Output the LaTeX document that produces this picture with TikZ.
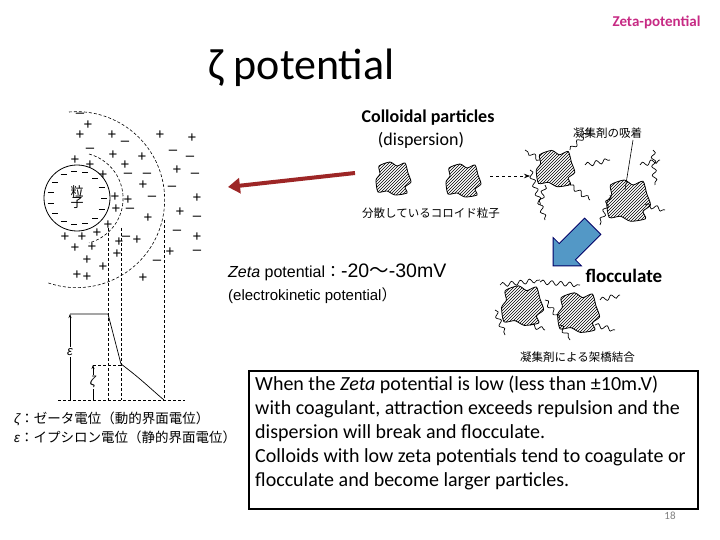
\documentclass[tikz,border=0pt]{standalone}
\usepackage{fontspec}
\setmainfont{Carlito}
\newfontfamily\arialf{Liberation Sans}
\newfontfamily\jpf{Noto Sans CJK JP}
\usetikzlibrary{patterns,shapes.arrows,decorations.pathmorphing,arrows.meta}
\tikzset{
 pm/.style={font=\arialf\fontsize{15}{15}\selectfont,inner sep=0pt},
 jp/.style={font=\jpf\fontsize{11.5}{12}\selectfont,inner sep=0pt,anchor=west},
 dl/.style={densely dashed,line width=0.6pt},
 blobst/.style={draw,line width=0.8pt,pattern=north east lines},
 sq/.style={line width=0.7pt,decorate,decoration={snake,amplitude=2.2pt,segment length=9pt}},
}
\newcommand{\myblob}[3]{\draw[blobst,shift={(#1,#2)},scale=#3] plot[smooth cycle,tension=0.4] coordinates{(-14,-12)(-3,-16)(4,-12)(12,-15)(15,-5)(18,4)(12,9)(14,15)(2,17)(-6,13)(-15,14)(-17,2)(-13,-4)};}
\begin{document}
\begin{tikzpicture}[x=1pt,y=-1pt]
\useasboundingbox[fill=white] (0,0) rectangle (720,540);
\node[font=\bfseries\fontsize{15}{15}\selectfont,text=magenta!80!black,anchor=east] (hdr) at (704,22) {Zeta-potential};
\node[font=\fontsize{44}{44}\selectfont,anchor=west] (ttl) at (205,68) {ζ potential};
% left diagram
\draw[line width=0.8pt] (77,198) circle (33);
\foreach \a in {0,24,...,336}{\draw[line width=0.8pt] ({77+27*cos(\a)-3},{198+27*sin(\a)}) -- ++(6,0);}
\node[font=\jpf\fontsize{13}{13}\selectfont,align=center,inner sep=0pt] (ptc) at (77,197) {粒\\[-2pt]子};
\draw[dl] (89,154) arc[start angle=-75,end angle=75,radius=46];
\draw[dl] (69,112) arc[start angle=-95,end angle=110,radius=88];
\foreach \x/\y in {88/125,80/135,112/135,160/135,192/138,75/160,113/155,125/165,142/157,177/170,90/165,103/175,197/198,143/185,128/200,115/197,116/209,180/212,148/218,108/225,197/237,65/237,82/237,97/233,137/240,119/242,75/248,92/247,117/254,170/252,87/260,103/267,77/275,87/277,143/278}{\node[pm] at (\x,\y) {+};}
\foreach \x/\y in {80/115,125/143,173/152,190/158,90/150,128/175,147/175,195/175,172/188,152/198,130/210,197/218,177/232,126/238,197/252,157/262}{\node[pm] at (\x,\y) {–};}
\draw[dl] (108,228) -- (108,400);
\draw[dl] (121,228) -- (121,400);
\draw[dl] (164,220) -- (164,400);
\draw[dl] (58,400) -- (185,400);
\draw[line width=0.7pt] (70,314) -- (108,314) -- (121,364) .. controls (140,378) and (152,390) .. (164,400);
\draw[dl] (93,365) -- (121,365);
\draw[-{Stealth[length=4pt]},{Stealth[length=4pt]}-,line width=0.6pt] (70,314) -- (70,400);
\draw[-{Stealth[length=4pt]},{Stealth[length=4pt]}-,line width=0.6pt] (93,365) -- (93,400);
\node[fill=white,inner sep=1pt,font=\arialf\itshape\fontsize{13}{13}\selectfont] at (70,352) {ε};
\node[fill=white,inner sep=1pt,font=\arialf\itshape\fontsize{13}{13}\selectfont] at (93,382) {ζ};
\node[jp,font=\jpf\fontsize{13.5}{14}\selectfont] (l1) at (14,419) {\arialf\itshape ζ\jpf\upshape ：ゼータ電位（動的界面電位）};
\node[jp,font=\jpf\fontsize{13.5}{14}\selectfont] (l2) at (14,437) {\arialf\itshape ε\jpf\upshape ：イプシロン電位（静的界面電位）};
% red arrow
\coordinate (ra) at (355,173);
\coordinate (rb) at (228,187);
\draw[-{Triangle[length=12pt,width=15pt]},line width=4pt,draw=red!55!black!85] (ra) -- (rb);
% colloids
\node[font=\bfseries\fontsize{18}{18}\selectfont] (cp) at (428,118) {Colloidal particles};
\node[font=\fontsize{18}{18}\selectfont] (ds) at (421,140) {(dispersion)};
\myblob{393}{178}{1}
\myblob{463}{180}{1}
\node[jp] (jp1) at (362,213) {分散しているコロイド粒子};
\coordinate (da) at (490,176);
\coordinate (db) at (530,176);
\draw[dashed,-{Stealth[length=6pt]},line width=0.7pt] (da) -- (db);
\myblob{555}{168}{1.1}
\myblob{628}{200}{1.25}
\node[jp] (jp2) at (573,133) {凝集剤の吸着};
\draw[line width=0.6pt] (633,140) -- (625,190);
\draw[sq] (540,160) -- (525,150);
\draw[sq] (570,150) -- (590,130);
\draw[sq] (545,185) -- (540,205);
\draw[sq] (570,185) -- (590,200);
\draw[sq] (530,170) -- (545,220);
\draw[sq] (610,195) -- (600,225);
\draw[sq] (645,205) -- (665,210);
\draw[sq] (640,165) -- (660,160);
\draw[sq] (653,150) -- (655,185);
\draw[sq] (585,165) -- (610,160);
% blue arrow
\node[single arrow,draw=blue!40!black,fill=blue!40!cyan!50!gray!90,line width=0.8pt,minimum height=56pt,minimum width=40pt,single arrow head extend=4pt,inner sep=5pt,rotate=-135] (ba) at (577,242) {};
\node[font=\bfseries\fontsize{19}{19}\selectfont,anchor=west] (fl) at (582,276) {flocculate};
\myblob{522}{305}{1.2}
\myblob{578}{312}{1.2}
\draw[sq] (500,285) -- (540,280);
\draw[sq] (540,282) -- (580,285);
\draw[sq] (545,300) -- (560,320);
\draw[sq] (495,310) -- (505,335);
\draw[sq] (530,325) -- (545,330);
\draw[sq] (595,325) -- (615,330);
\draw[sq] (600,300) -- (620,295);
\draw[sq] (560,325) -- (570,340);
\node[jp] (jp3) at (520,357) {凝集剤による架橋結合};
% zeta text
\node[anchor=west,inner sep=0pt] (zt) at (228,272) {\arialf\fontsize{16}{16}\selectfont\itshape Zeta\upshape{} potential\jpf：\arialf\fontsize{19.5}{19.5}\selectfont -20\jpf～\arialf -30mV};
\node[anchor=west,inner sep=0pt,font=\arialf\fontsize{15}{15}\selectfont] (ek) at (228,296) {(electrokinetic potential\jpf）};
% box
\node[draw,line width=1.6pt,anchor=north west,minimum width=449pt,minimum height=138pt,inner sep=0pt] (bx) at (248,370) {};
\node[anchor=north west,align=left,font=\fontsize{20}{24}\selectfont,inner sep=0pt] (bt) at (255,376) {When the \textit{Zeta} potential is low (less than ±10m.V)\\ with coagulant, attraction exceeds repulsion and the\\ dispersion will break and flocculate.\\ Colloids with low zeta potentials tend to coagulate or\\ flocculate and become larger particles.};
\node[font=\fontsize{11}{11}\selectfont,text=gray] (pg) at (670,516) {18};
\end{tikzpicture}
\end{document}
